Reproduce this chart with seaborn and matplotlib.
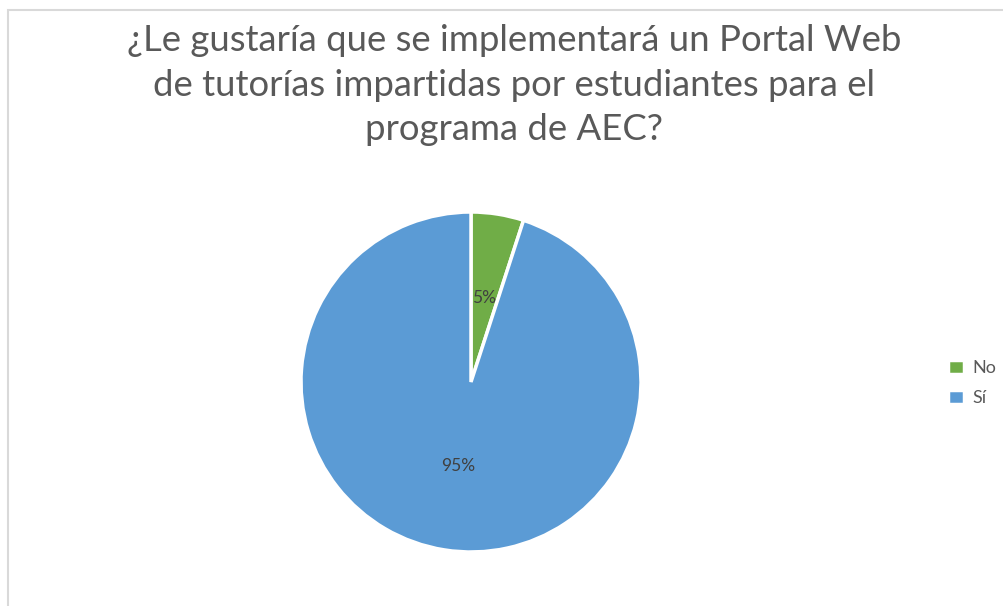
import matplotlib
matplotlib.use("Agg")
import matplotlib.pyplot as plt
import seaborn as sns
from matplotlib.patches import Rectangle

respuestas = ["No", "Sí"]
porcentajes = [5, 95]
colores = ["#70AD47", "#5B9BD5"]
titulo = ("¿Le gustaría que se implementará un Portal Web\n"
          "de tutorías impartidas por estudiantes para el\n"
          "programa de AEC?")

sns.set_theme(style="white")
plt.rcParams['font.family'] = ['Lato', 'DejaVu Sans']

fig = plt.figure(figsize=(10.04, 6.06), dpi=100)
fig.patch.set_facecolor("white")

# marco gris claro alrededor del grafico
fig.patches.append(Rectangle((8 / 1004, -0.05), 1.1, (596 / 606) + 0.05,
                             transform=fig.transFigure, fill=False,
                             edgecolor="#d9d9d9", linewidth=1.5))

fig.text(0.512, 1 - 24 / 606, titulo, ha="center", va="top", fontsize=26.3,
         color="#595959", linespacing=1.43)

ax = fig.add_axes([301 / 1004, 54 / 606, 340 / 1004, 340 / 606])
wedges, textos, autotextos = ax.pie(
    porcentajes, colors=colores, startangle=90, counterclock=False,
    autopct="%1.0f%%", pctdistance=0.5,
    wedgeprops=dict(edgecolor="white", linewidth=2.5),
    textprops=dict(color="#404040", fontsize=12.5))
ax.set_xlim(-1, 1)
ax.set_ylim(-1, 1)
ax.set_aspect("auto")
ax.axis("off")

fig.legend(wedges, respuestas, loc="center left",
           bbox_to_anchor=(932 / 1004, 1 - 383 / 606), frameon=False,
           fontsize=13, labelcolor="#595959", handlelength=0.85,
           handleheight=0.85, handletextpad=0.5, labelspacing=0.75)

fig.savefig("out.png", dpi=100, facecolor="white")
